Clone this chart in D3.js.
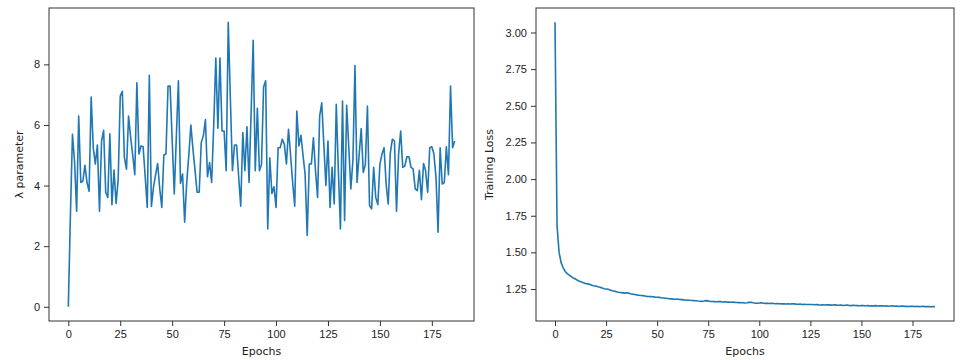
<!DOCTYPE html>
<html lang="en">
<head>
  <meta charset="UTF-8">
  <title>Lambda parameter and training loss</title>
  <script src="https://d3js.org/d3.v7.min.js"></script>
  <style>
    body { margin: 0; background: #fff; }
    svg { display: block; font-family: "DejaVu Sans", sans-serif; }
    .tick text { fill: #222; font-size: 11px; }
    .domain, .tick line { stroke: #333; }
  </style>
</head>
<body>
  <svg id="chart"></svg>

  <script>
    // λ parameter per epoch
    const lambdaValues = [
      0, 3.0, 5.69, 4.8, 3.15, 6.29, 4.10, 4.15, 4.67, 4.1,
      3.81, 6.92, 5.25, 4.71, 5.34, 3.15, 5.47, 5.82, 3.78, 3.61,
      5.71, 3.37, 4.51, 3.41, 4.2, 6.95, 7.11, 4.92, 4.54, 6.29,
      5.6, 5.0, 4.36, 7.39, 5.04, 5.31, 5.28, 4.3, 3.28, 7.64,
      3.31, 3.95, 4.35, 4.73, 3.9, 3.28, 5.01, 5.04, 7.28, 7.28,
      5.5, 3.72, 5.6, 7.46, 4.07, 4.38, 2.79, 4.1, 5.0, 6.0,
      5.2, 4.5, 3.78, 3.78, 5.42, 5.64, 6.18, 4.29, 4.76, 4.10,
      6.0, 8.21, 5.89, 8.21, 5.80, 5.80, 4.49, 9.39, 6.9, 4.49,
      5.34, 5.34, 4.3, 3.32, 5.75, 4.49, 5.94, 4.10, 6.4, 8.79,
      4.49, 6.55, 4.49, 4.70, 7.25, 7.46, 2.57, 4.92, 3.74, 3.96,
      3.28, 5.25, 5.25, 5.53, 5.36, 4.71, 5.86, 5.0, 4.1, 3.32,
      6.46, 5.31, 5.66, 5.0, 4.36, 2.35, 4.71, 4.71, 5.58, 4.49,
      3.61, 6.29, 6.73, 5.36, 4.0, 5.47, 3.28, 4.60, 3.39, 6.68,
      4.5, 2.57, 6.79, 2.85, 6.65, 5.3, 3.89, 4.82, 7.96, 4.10,
      5.0, 5.88, 4.43, 4.70, 6.62, 3.34, 3.23, 4.60, 3.61, 3.37,
      4.71, 5.04, 5.25, 4.05, 3.39, 5.07, 5.53, 5.47, 3.15, 5.04,
      5.80, 4.60, 4.65, 4.95, 4.95, 4.60, 4.55, 3.89, 3.83, 4.5,
      3.53, 4.73, 4.49, 3.78, 5.25, 5.28, 5.04, 4.27, 2.46, 5.25,
      4.05, 4.10, 5.28, 4.36, 7.28, 5.25, 5.47
    ];

    // Training loss per epoch
    const lossValues = [
      3.07, 1.68, 1.50, 1.43, 1.395, 1.37, 1.355, 1.345, 1.335, 1.325,
      1.318, 1.31, 1.303, 1.298, 1.292, 1.288, 1.285, 1.282, 1.276, 1.272,
      1.27, 1.265, 1.262, 1.258, 1.252, 1.25, 1.248, 1.244, 1.238, 1.236,
      1.232, 1.228, 1.226, 1.224, 1.222, 1.225, 1.222, 1.218, 1.215, 1.213,
      1.21, 1.208, 1.206, 1.205, 1.203, 1.2, 1.199, 1.198, 1.197, 1.195,
      1.194, 1.193, 1.19, 1.189, 1.187, 1.186, 1.184, 1.183, 1.181, 1.18,
      1.182, 1.179, 1.178, 1.176, 1.175, 1.174, 1.173, 1.172, 1.171, 1.17,
      1.168, 1.167, 1.166, 1.168, 1.171, 1.169, 1.166, 1.165, 1.164, 1.163,
      1.165, 1.164, 1.162, 1.163, 1.161, 1.162, 1.16, 1.161, 1.159, 1.158,
      1.157, 1.156, 1.157, 1.155, 1.156, 1.159, 1.16, 1.156, 1.154, 1.153,
      1.155, 1.156, 1.153, 1.152, 1.153, 1.151, 1.152, 1.151, 1.15, 1.151,
      1.15, 1.149, 1.15, 1.148, 1.149, 1.148, 1.149, 1.15, 1.147, 1.146,
      1.147, 1.145, 1.146, 1.145, 1.144, 1.145, 1.144, 1.143, 1.145, 1.142,
      1.141, 1.142, 1.141, 1.143, 1.142, 1.14, 1.141, 1.142, 1.14, 1.139,
      1.141, 1.138, 1.139, 1.14, 1.138, 1.137, 1.139, 1.138, 1.137, 1.136,
      1.138, 1.137, 1.136, 1.137, 1.135, 1.136, 1.135, 1.137, 1.134, 1.135,
      1.136, 1.134, 1.135, 1.133, 1.134, 1.135, 1.133, 1.134, 1.132, 1.133,
      1.134, 1.132, 1.133, 1.131, 1.132, 1.133, 1.131, 1.132, 1.13, 1.131,
      1.132, 1.13, 1.131, 1.13, 1.129, 1.13, 1.129
    ];

    const xTicks = [0, 25, 50, 75, 100, 125, 150, 175];
    const lambdaTicks = [0, 2, 4, 6, 8];
    const lossTicks = [1.25, 1.50, 1.75, 2.00, 2.25, 2.50, 2.75, 3.00];

    const W = 961, H = 360;
    const svg = d3.select("#chart").attr("width", W).attr("height", H);

    // matplotlib style 5% padding around the data
    function padded(ext) {
      const p = (ext[1] - ext[0]) * 0.05;
      return [ext[0] - p, ext[1] + p];
    }

    function drawPanel(box, values, yTicks, yFmt, yLabel) {
      const epochs = values.map((v, i) => i);
      const x = d3.scaleLinear().domain(padded(d3.extent(epochs))).range([box.left, box.right]);
      const y = d3.scaleLinear().domain(padded(d3.extent(values))).range([box.bottom, box.top]);

      const line = d3.line().x((d, i) => x(i)).y(d => y(d));
      svg.append("path")
         .datum(values)
         .attr("fill", "none")
         .attr("stroke", "#1f77b4")
         .attr("stroke-width", 1.6)
         .attr("stroke-linejoin", "round")
         .attr("d", line);

      svg.append("g")
         .attr("transform", `translate(0,${box.bottom})`)
         .call(d3.axisBottom(x).tickValues(xTicks).tickSize(5).tickPadding(4).tickSizeOuter(0));

      svg.append("g")
         .attr("transform", `translate(${box.left},0)`)
         .call(d3.axisLeft(y).tickValues(yTicks).tickFormat(yFmt).tickSize(5).tickPadding(4).tickSizeOuter(0));

      // frame
      svg.append("rect")
         .attr("x", box.left).attr("y", box.top)
         .attr("width", box.right - box.left).attr("height", box.bottom - box.top)
         .attr("fill", "none").attr("stroke", "#333").attr("stroke-width", 1);

      svg.selectAll(".domain").remove();

      svg.append("text")
         .attr("x", (box.left + box.right) / 2)
         .attr("y", 355)
         .attr("text-anchor", "middle")
         .style("font-size", "11px")
         .style("fill", "#222")
         .text("Epochs");

      svg.append("text")
         .attr("transform", `translate(${box.labelX},${(box.top + box.bottom) / 2}) rotate(-90)`)
         .attr("text-anchor", "middle")
         .style("font-size", "11px")
         .style("fill", "#222")
         .text(yLabel);
    }

    drawPanel({ left: 49, right: 474, top: 8, bottom: 321, labelX: 23 },
              lambdaValues, lambdaTicks, d3.format("d"), "λ parameter");
    drawPanel({ left: 536, right: 954, top: 8, bottom: 321, labelX: 493 },
              lossValues, lossTicks, d3.format(".2f"), "Training Loss");
  </script>
</body>
</html>
